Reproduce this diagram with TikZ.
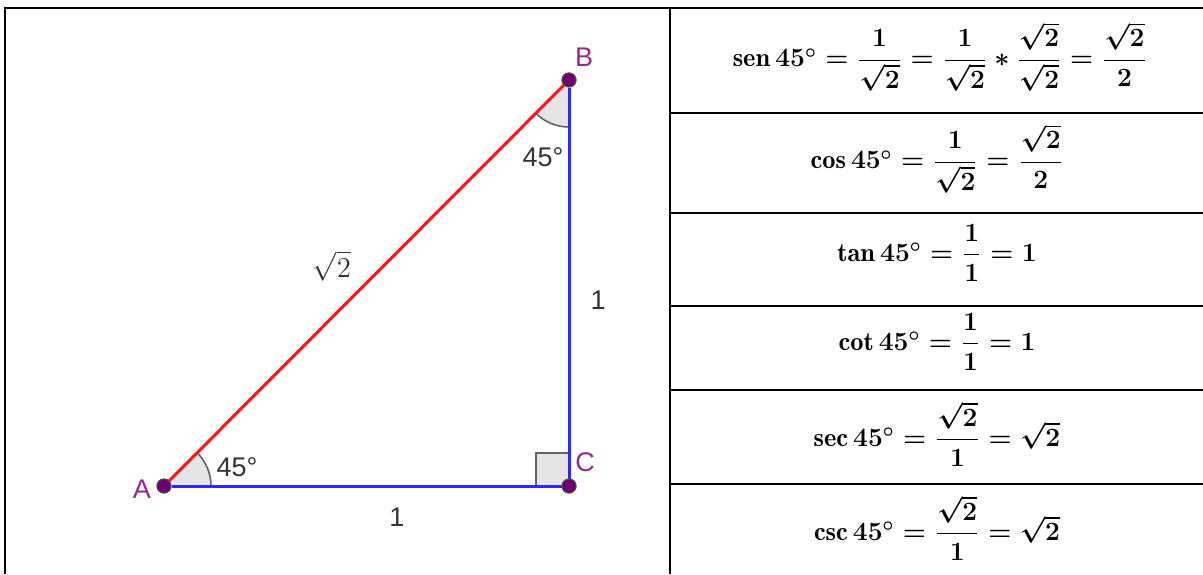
\documentclass[tikz,border=0pt]{standalone}
\usepackage{amsmath,amssymb}
\usepackage{fontspec}
\newfontfamily\geofont{Liberation Sans}
\usetikzlibrary{angles}
\definecolor{segred}{RGB}{255,20,20}
\definecolor{segblue}{RGB}{40,40,255}
\definecolor{ptpurple}{RGB}{110,0,110}
\definecolor{lblpurple}{RGB}{150,40,150}
\definecolor{anglefill}{RGB}{229,229,229}
\definecolor{anglegray}{RGB}{100,100,100}

\begin{document}
\begin{tikzpicture}[x=0.5pt, y=-0.5pt,
    frame/.style={draw=black, line width=1.1pt},
    hyp/.style={draw=segred, line width=1.5pt},
    leg/.style={draw=segblue, line width=1.5pt},
    dot/.style={circle, fill=ptpurple, draw=black!70, line width=0.5pt, inner sep=0pt, minimum size=7pt},
    ptlabel/.style={text=lblpurple, font=\geofont\fontsize{13.5}{15}\selectfont},
    seglabel/.style={text=black!80, font=\geofont\fontsize{13.5}{15}\selectfont},
    ang/.style={draw=anglegray, fill=anglefill, line width=0.8pt, angle radius=23.5pt},
    ratio/.style={font=\large\boldmath, scale=1.1, transform shape}]

\useasboundingbox (0,0) rectangle (1203,574);

% table frame
\draw [frame] (5,574) -- (5,8) -- (1203,8);
\draw [frame] (670,8) -- (670,574);
\foreach \y in {113,213,306,390,484}
  \draw [frame] (670,\y) -- (1203,\y);

% triangle
\node [dot] (A) at (164,486) {};
\node [dot] (B) at (569,80) {};
\node [dot] (C) at (569,486) {};

\pic [ang] {angle = C--A--B};
\pic [ang] {angle = A--B--C};
\pic [ang, angle radius=16.5pt] {right angle = B--C--A};

\draw [hyp] (A) -- (B);
\draw [leg] (A) -- (C);
\draw [leg] (C) -- (B);
\node [dot] at (A) {};
\node [dot] at (B) {};
\node [dot] at (C) {};

\node [ptlabel] (lA) at (142,489) {A};
\node [ptlabel] (lB) at (584,57) {B};
\node [ptlabel] (lC) at (585,462) {C};
\node [seglabel] (aA) at (237,467) {45°};
\node [seglabel] (aB) at (543,157) {45°};
\node [seglabel] (sAC) at (397,517) {1};
\node [seglabel] (sCB) at (598,300) {1};
\node [text=black!80, font=\fontsize{14.5}{16}\selectfont] (sAB) at (332,266) {$\sqrt{2}$};

% ratios
\node [ratio] (rsen) at (940,57) {$\operatorname{sen}45^\circ=\dfrac{1}{\sqrt{2}}=\dfrac{1}{\sqrt{2}}\ast\dfrac{\sqrt{2}}{\sqrt{2}}=\dfrac{\sqrt{2}}{2}$};
\node [ratio] (rcos) at (937,159) {$\cos 45^\circ=\dfrac{1}{\sqrt{2}}=\dfrac{\sqrt{2}}{2}$};
\node [ratio] (rtan) at (937,253) {$\tan 45^\circ=\dfrac{1}{1}=1$};
\node [ratio] (rcot) at (937,342) {$\cot 45^\circ=\dfrac{1}{1}=1$};
\node [ratio] (rsec) at (937,434) {$\sec 45^\circ=\dfrac{\sqrt{2}}{1}=\sqrt{2}$};
\node [ratio] (rcsc) at (937,528) {$\csc 45^\circ=\dfrac{\sqrt{2}}{1}=\sqrt{2}$};

\end{tikzpicture}
\end{document}
